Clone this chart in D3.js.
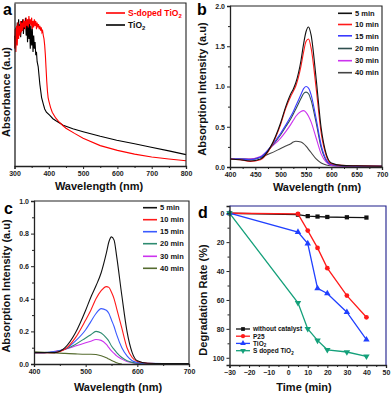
<!DOCTYPE html>
<html>
<head>
<meta charset="utf-8">
<script src="https://cdn.jsdelivr.net/npm/d3@7"></script>
<style>
  body { margin: 0; background: #fff; }
  svg { display: block; font-family: "Liberation Sans", Arial, sans-serif; font-weight: bold; }
  .tick text { font-size: 7px; font-weight: bold; fill: #222; }
  .domain, .tick line { stroke: #222; }
</style>
</head>
<body>
<svg id="chart" width="392" height="394"></svg>
<script>
// ---- panel a: UV-vis absorbance ----
const aRedW = [300,302,304,306,308,310,312,314,316,318,320,322,324,326,328,330,332,334,336,338,340,342,344,346,348,350,352,354,356,358,360,362,364,366,368,370,372,374,376,378,380,382,384,386,388,390,392,394,396,398,400,405,410,420,430,440,450,475,500,550,600,650,700,750,800];
const aRed = [0.72,0.84,0.70,0.86,0.74,0.88,0.78,0.86,0.80,0.89,0.82,0.88,0.83,0.90,0.85,0.89,0.84,0.91,0.86,0.90,0.85,0.92,0.87,0.90,0.86,0.91,0.84,0.89,0.85,0.90,0.86,0.89,0.84,0.88,0.85,0.87,0.84,0.86,0.83,0.85,0.82,0.83,0.80,0.78,0.74,0.68,0.60,0.52,0.46,0.42,0.40,0.36,0.33,0.295,0.27,0.25,0.232,0.2,0.17,0.125,0.096,0.073,0.055,0.043,0.032];
const aBlackW = [300,302,304,306,308,310,312,314,316,318,320,322,324,326,328,330,332,334,336,338,340,342,344,346,348,350,352,354,356,358,360,362,364,366,369,374,379,384,388,393,403,412,422,442,470,500,550,598,650,695,750,800];
const aBlack = [0.80,0.74,0.85,0.78,0.88,0.80,0.90,0.82,0.87,0.79,0.89,0.83,0.90,0.81,0.88,0.84,0.91,0.80,0.89,0.76,0.90,0.78,0.88,0.72,0.86,0.74,0.84,0.70,0.80,0.72,0.76,0.68,0.70,0.64,0.61,0.50,0.42,0.38,0.35,0.33,0.31,0.29,0.276,0.25,0.228,0.21,0.182,0.158,0.136,0.117,0.093,0.07];

// ---- panel b: RhB spectra, S-doped TiO2 ----
const bW = [400,420,440,460,480,500,510,520,525,530,540,545,550,555,560,570,580,590,600,620,650,700];
const b5 = [0.10,0.09,0.075,0.10,0.25,0.55,0.75,0.91,0.97,1.05,1.32,1.52,1.68,1.74,1.64,1.10,0.48,0.16,0.05,0.02,0.015,0.01];
const b10 = [0.10,0.09,0.07,0.09,0.24,0.53,0.73,0.88,0.94,1.01,1.25,1.42,1.56,1.59,1.48,0.98,0.42,0.14,0.04,0.02,0.015,0.01];
const b15 = [0.10,0.10,0.09,0.12,0.25,0.42,0.52,0.63,0.69,0.76,0.90,0.97,1.0,0.98,0.90,0.60,0.27,0.09,0.03,0.015,0.01,0.01];
const b20 = [0.10,0.10,0.09,0.12,0.24,0.40,0.50,0.60,0.66,0.72,0.85,0.91,0.93,0.91,0.83,0.55,0.24,0.08,0.03,0.015,0.01,0.01];
const b30 = [0.10,0.10,0.10,0.13,0.24,0.36,0.44,0.53,0.58,0.63,0.69,0.70,0.68,0.63,0.56,0.36,0.16,0.06,0.02,0.01,0.01,0.01];
const b40 = [0.10,0.10,0.10,0.12,0.17,0.23,0.26,0.29,0.31,0.32,0.31,0.29,0.26,0.22,0.18,0.10,0.05,0.025,0.015,0.01,0.01,0.01];

// ---- panel c ----
const cW = [400,420,440,460,480,500,510,520,530,540,545,550,555,560,570,580,590,600,620,650,700];
const c5 = [0.07,0.07,0.07,0.10,0.19,0.33,0.41,0.48,0.56,0.68,0.75,0.78,0.76,0.66,0.42,0.20,0.07,0.02,0.005,0.003,0.003];
const c10 = [0.07,0.07,0.07,0.09,0.16,0.27,0.33,0.40,0.45,0.475,0.47,0.44,0.40,0.34,0.22,0.10,0.04,0.015,0.005,0.003,0.003];
const c15 = [0.07,0.07,0.075,0.09,0.14,0.21,0.26,0.31,0.34,0.33,0.31,0.27,0.23,0.18,0.10,0.05,0.02,0.01,0.004,0.003,0.003];
const c20 = [0.07,0.07,0.075,0.09,0.12,0.16,0.18,0.20,0.19,0.16,0.14,0.11,0.09,0.07,0.04,0.02,0.01,0.005,0.003,0.003,0.003];
const c30 = [0.07,0.07,0.078,0.09,0.11,0.13,0.14,0.15,0.145,0.12,0.10,0.08,0.065,0.05,0.03,0.015,0.008,0.004,0.003,0.003,0.003];
const c40 = [0.075,0.072,0.068,0.065,0.062,0.06,0.06,0.058,0.05,0.038,0.03,0.022,0.015,0.008,0.0,null,null,null,null,null,null];

const timeLabels = ['5 min', '10 min', '15 min', '20 min', '30 min', '40 min'];

// ---- panel d: degradation rate ----
const dTime = [-30, 5, 10, 15, 20, 30, 40];
const dNone = [0, 1, 2, 2.3, 2.6, 2.8, 3];
const dP25 = [0, 0.5, 12, 24, 38, 57, 72];
const dTiO2 = [0, 13, 21, 52, 55.5, 68.5, 87.5];
const dSTiO2 = [0, 62, 80, 88, 94.5, 96, 99];

const svg = d3.select('#chart');

function frame(g, x, y, opt) {
  const [x0, x1] = x.range(), [y0, y1] = y.range();
  // main axes with outward ticks
  g.append('g').attr('transform', `translate(0,${d3.max([y0, y1])})`)
    .call(d3.axisBottom(x).tickValues(opt.xTicks).tickSize(3).tickPadding(2).tickFormat(opt.xFmt || d3.format('d')))
    .call(a => a.select('.domain').attr('stroke-width', 1.3));
  g.append('g').attr('transform', `translate(0,${d3.max([y0, y1])})`)
    .call(d3.axisBottom(x).tickValues(opt.xMinor).tickSize(2).tickFormat(''))
    .call(a => a.select('.domain').remove());
  const ya = g.append('g').attr('transform', `translate(${x0},0)`);
  if (opt.yTicks) {
    ya.call(d3.axisLeft(y).tickValues(opt.yTicks).tickSize(3).tickPadding(2).tickFormat(opt.yFmt));
    g.append('g').attr('transform', `translate(${x0},0)`)
      .call(d3.axisLeft(y).tickValues(opt.yMinor).tickSize(2).tickFormat(''))
      .call(a => a.select('.domain').remove());
  } else {
    ya.call(d3.axisLeft(y).tickValues([]).tickSize(0));
  }
  ya.select('.domain').attr('stroke-width', 1.3);
  const top = d3.min([y0, y1]);
  g.append('path').attr('fill', 'none').attr('stroke', opt.rightColor || '#222').attr('stroke-width', 1.1)
    .attr('d', `M${x0},${top}H${x1}V${d3.max([y0, y1])}`);
}

function label(x, y, text, size, rotate) {
  svg.append('text').attr('x', x).attr('y', y).attr('text-anchor', 'middle')
    .attr('font-size', size).attr('fill', '#111')
    .attr('transform', rotate ? `rotate(-90,${x},${y})` : null)
    .text(text);
}

function tio2(sel, prefix, size) {
  sel.append('tspan').text(prefix + 'TiO');
  sel.append('tspan').attr('font-size', size * 0.7).attr('dy', 1.5).text('2');
}

function spectra(g, x, y, W, series, colors) {
  const line = d3.line().defined(d => d[1] != null)
    .x(d => x(d[0])).y(d => y(d[1])).curve(d3.curveMonotoneX);
  series.forEach((s, i) => {
    g.append('path').datum(W.map((w, j) => [w, s[j]]))
      .attr('fill', 'none').attr('stroke', colors[i]).attr('stroke-width', 1.1).attr('d', line);
  });
}

function legendLines(g, x0, x1, ys, names, colors, size) {
  names.forEach((n, i) => {
    g.append('line').attr('x1', x0).attr('x2', x1).attr('y1', ys[i]).attr('y2', ys[i])
      .attr('stroke', colors[i]).attr('stroke-width', 1.6);
    g.append('text').attr('x', x1 + 3).attr('y', ys[i] + size * 0.36)
      .attr('font-size', size).attr('fill', '#111').text(n);
  });
}

// ---------- a ----------
{
  const g = svg.append('g');
  const x = d3.scaleLinear().domain([300, 800]).range([14.5, 186]);
  const y = d3.scaleLinear().domain([0, 1]).range([166, 3]);
  const line = d3.line().x(d => x(d[0])).y(d => y(d[1]));
  g.append('path').datum(aBlackW.map((w, i) => [w, aBlack[i]]))
    .attr('fill', 'none').attr('stroke', '#000').attr('stroke-width', 1.1).attr('d', line);
  g.append('path').datum(aRedW.map((w, i) => [w, aRed[i]]))
    .attr('fill', 'none').attr('stroke', '#ff0000').attr('stroke-width', 1.1).attr('d', line);
  frame(g, x, y, { xTicks: d3.range(300, 801, 100), xMinor: d3.range(350, 800, 100) });
  g.append('line').attr('x1', 106).attr('x2', 125).attr('y1', 13).attr('y2', 13).attr('stroke', '#ff0000').attr('stroke-width', 1.6);
  g.append('line').attr('x1', 106).attr('x2', 125).attr('y1', 25).attr('y2', 25).attr('stroke', '#000').attr('stroke-width', 1.6);
  tio2(g.append('text').attr('x', 128).attr('y', 16).attr('font-size', 8.5).attr('fill', '#ff0000'), 'S-doped ', 8.5);
  tio2(g.append('text').attr('x', 128).attr('y', 28).attr('font-size', 8.5).attr('fill', '#111'), '', 8.5);
  label(99, 190, 'Wavelength (nm)', 11);
  label(10, 92, 'Absorbance (a.u)', 11, true);
  svg.append('text').attr('x', 3).attr('y', 15).attr('font-size', 16).attr('fill', '#000').text('a');
}

// ---------- b ----------
{
  const g = svg.append('g');
  const x = d3.scaleLinear().domain([400, 700]).range([230, 382]);
  const y = d3.scaleLinear().domain([0, 2]).range([167, 6]);
  const colors = ['#111111', '#ff1a1a', '#3a3aff', '#2f4f4f', '#cc33ee', '#444444'];
  spectra(g, x, y, bW, [b40, b30, b20, b15, b10, b5], colors.slice().reverse());
  frame(g, x, y, {
    xTicks: d3.range(400, 701, 50), xMinor: d3.range(425, 700, 50),
    yTicks: d3.range(0, 2.01, 0.5), yMinor: d3.range(0.25, 2, 0.5), yFmt: d3.format('.1f')
  });
  legendLines(g, 338, 352, [13.3, 24.5, 35.8, 48.5, 60.7, 72.7], timeLabels, colors, 7.5);
  label(317, 191, 'Wavelength (nm)', 11);
  label(206, 89, 'Absorption Intensity (a.u)', 11, true);
  svg.append('text').attr('x', 197).attr('y', 15).attr('font-size', 16).attr('fill', '#000').text('b');
}

// ---------- c ----------
{
  const g = svg.append('g');
  const x = d3.scaleLinear().domain([400, 700]).range([34, 189]);
  const y = d3.scaleLinear().domain([0, 1]).range([364, 201]);
  const colors = ['#111111', '#ff1a1a', '#3a5aff', '#2e8b70', '#cc33ee', '#556b2f'];
  spectra(g, x, y, cW, [c40, c30, c20, c15, c10, c5], colors.slice().reverse());
  frame(g, x, y, {
    xTicks: d3.range(400, 701, 100), xMinor: d3.range(450, 700, 100),
    yTicks: d3.range(0, 1.01, 0.2), yMinor: d3.range(0.1, 1, 0.2), yFmt: d3.format('.1f')
  });
  legendLines(g, 143, 157, [207.7, 219.7, 231.7, 243.7, 256.3, 268.3], timeLabels, colors, 7.5);
  label(118, 391, 'Wavelength (nm)', 11);
  label(10, 286, 'Absorption Intensity (a.u)', 11, true);
  svg.append('text').attr('x', 4).attr('y', 214).attr('font-size', 16).attr('fill', '#000').text('c');
}

// ---------- d ----------
{
  const g = svg.append('g');
  const x = d3.scaleLinear().domain([-30, 50]).range([229.5, 386]);
  const y = d3.scaleLinear().domain([-5, 105]).range([206, 365]);
  const series = [
    { name: 'without catalyst', v: dNone, color: '#111111', sym: d3.symbolSquare, rot: 0 },
    { name: 'P25', v: dP25, color: '#ff1a1a', sym: d3.symbolCircle, rot: 0 },
    { name: 'TiO2', v: dTiO2, color: '#2040ff', sym: d3.symbolTriangle, rot: 0 },
    { name: 'S doped TiO2', v: dSTiO2, color: '#14a07a', sym: d3.symbolTriangle, rot: 180 }
  ];
  const line = d3.line().x(d => x(d[0])).y(d => y(d[1]));
  series.forEach(s => {
    const pts = dTime.map((t, i) => [t, s.v[i]]);
    g.append('path').datum(pts).attr('fill', 'none').attr('stroke', s.color).attr('stroke-width', 1.3).attr('d', line);
    g.selectAll(null).data(pts).enter().append('path')
      .attr('d', d3.symbol().type(s.sym).size(18))
      .attr('transform', d => `translate(${x(d[0])},${y(d[1])}) rotate(${s.rot})`)
      .attr('fill', s.color);
  });
  frame(g, x, y, {
    xTicks: d3.range(-30, 51, 10), xMinor: d3.range(-25, 50, 10),
    yTicks: d3.range(0, 101, 20), yMinor: d3.range(10, 100, 20), yFmt: d3.format('d'),
    rightColor: '#1c1c8a'
  });
  const ly = [329, 336.2, 343.4, 350.7];
  series.forEach((s, i) => {
    g.append('line').attr('x1', 236).attr('x2', 250).attr('y1', ly[i]).attr('y2', ly[i])
      .attr('stroke', s.color).attr('stroke-width', 1.3);
    g.append('path').attr('d', d3.symbol().type(s.sym).size(14)())
      .attr('transform', `translate(243,${ly[i]}) rotate(${s.rot})`).attr('fill', s.color);
    const t = g.append('text').attr('x', 253).attr('y', ly[i] + 2.3).attr('font-size', 6.5).attr('fill', '#111');
    if (s.name.endsWith('TiO2')) tio2(t, s.name.slice(0, -4), 6.5);
    else t.text(s.name);
  });
  label(304, 391, 'Time (min)', 11);
  label(207, 300, 'Degradation Rate (%)', 11, true);
  svg.append('text').attr('x', 198).attr('y', 218).attr('font-size', 16).attr('fill', '#000').text('d');
}
</script>
</body>
</html>
